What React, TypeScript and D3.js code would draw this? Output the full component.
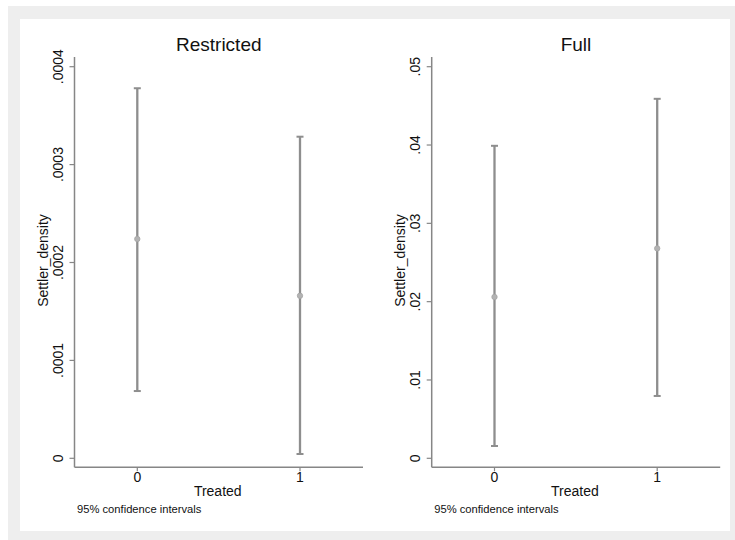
import React from "react";
import * as d3 from "d3";

const treatedCategories = [0, 1];
const xTickLabels = ["0", "1"];

const restrictedMean = [0.000224, 0.000166];
const restrictedLower = [0.0000687, 0.0000044];
const restrictedUpper = [0.000378, 0.0003285];
const restrictedTicks = [0, 0.0001, 0.0002, 0.0003, 0.0004];
const restrictedTickLabels = ["0", ".0001", ".0002", ".0003", ".0004"];

const fullMean = [0.0206, 0.0268];
const fullLower = [0.00157, 0.00796];
const fullUpper = [0.0399, 0.0459];
const fullTicks = [0, 0.01, 0.02, 0.03, 0.04, 0.05];
const fullTickLabels = ["0", ".01", ".02", ".03", ".04", ".05"];

const FONT = "Arial, 'Liberation Sans', Helvetica, sans-serif";
const BAR_COLOR = "#8e8e8e";
const AXIS_COLOR = "#868686";
const TEXT_COLOR = "#111111";

type PanelProps = {
  offsetX: number;
  title: string;
  mean: number[];
  lower: number[];
  upper: number[];
  ticks: number[];
  tickLabels: string[];
  yMax: number;
};

function Panel({ offsetX, title, mean, lower, upper, ticks, tickLabels, yMax }: PanelProps) {
  const axisX = offsetX + 74.5;
  const axisRight = offsetX + 355;
  const axisY = 467.3;
  const axisTop = 57;
  const x = d3.scaleLinear().domain([0, 1]).range([offsetX + 137.3, offsetX + 300]);
  const y = d3.scaleLinear().domain([0, yMax]).range([458.3, 66.7]);
  const centerX = (axisX + axisRight) / 2 + 4;
  const cap = 3.5;
  return (
    <g>
      <text x={centerX} y={51} textAnchor="middle" fontSize={19} fontFamily={FONT} fill={TEXT_COLOR}>
        {title}
      </text>
      {/* y axis */}
      <line x1={axisX} x2={axisX} y1={axisTop} y2={axisY} stroke={AXIS_COLOR} strokeWidth={1.5} />
      {ticks.map((t, i) => (
        <g key={"yt" + i}>
          <line x1={axisX - 5} x2={axisX} y1={y(t)} y2={y(t)} stroke={AXIS_COLOR} strokeWidth={1.2} />
          <text
            transform={`translate(${axisX - 11.5},${y(t)}) rotate(-90)`}
            textAnchor="middle"
            fontSize={14}
            fontFamily={FONT}
            fill={TEXT_COLOR}
          >
            {tickLabels[i]}
          </text>
        </g>
      ))}
      <text
        transform={`translate(${offsetX + 48},${260.5}) rotate(-90)`}
        textAnchor="middle"
        fontSize={14}
        fontFamily={FONT}
        fill={TEXT_COLOR}
      >
        Settler_density
      </text>
      {/* x axis */}
      <line x1={axisX} x2={offsetX + 363} y1={axisY} y2={axisY} stroke={AXIS_COLOR} strokeWidth={1.5} />
      {treatedCategories.map((c, i) => (
        <g key={"xt" + i}>
          <line x1={x(c)} x2={x(c)} y1={axisY} y2={axisY + 4} stroke={AXIS_COLOR} strokeWidth={1.2} />
          <text x={x(c)} y={481.7} textAnchor="middle" fontSize={14} fontFamily={FONT} fill={TEXT_COLOR}>
            {xTickLabels[i]}
          </text>
        </g>
      ))}
      <text x={centerX - 1} y={495.7} textAnchor="middle" fontSize={14} fontFamily={FONT} fill={TEXT_COLOR}>
        Treated
      </text>
      <text x={offsetX + 77} y={513} fontSize={11.2} fontFamily={FONT} fill={TEXT_COLOR}>
        95% confidence intervals
      </text>
      {/* error bars */}
      {treatedCategories.map((c, i) => (
        <g key={"eb" + i}>
          <line x1={x(c)} x2={x(c)} y1={y(lower[i])} y2={y(upper[i])} stroke={BAR_COLOR} strokeWidth={2.3} />
          <line x1={x(c) - cap} x2={x(c) + cap} y1={y(upper[i])} y2={y(upper[i])} stroke={BAR_COLOR} strokeWidth={2} />
          <line x1={x(c) - cap} x2={x(c) + cap} y1={y(lower[i])} y2={y(lower[i])} stroke={BAR_COLOR} strokeWidth={2} />
          <circle cx={x(c)} cy={y(mean[i])} r={2.7} fill="#b3b3b3" stroke="#a5a5a5" strokeWidth={0.8} />
        </g>
      ))}
    </g>
  );
}

export default function App() {
  return (
    <svg
      width={735}
      height={540}
      style={{ position: "absolute", left: 0, top: 0, background: "#ffffff" }}
    >
      <rect x={8} y={6} width={727} height={534} fill="#eeeeee" />
      <rect x={20} y={19} width={710} height={512} fill="#ffffff" />
      <Panel
        offsetX={0}
        title="Restricted"
        mean={restrictedMean}
        lower={restrictedLower}
        upper={restrictedUpper}
        ticks={restrictedTicks}
        tickLabels={restrictedTickLabels}
        yMax={0.0004}
      />
      <Panel
        offsetX={357.2}
        title="Full"
        mean={fullMean}
        lower={fullLower}
        upper={fullUpper}
        ticks={fullTicks}
        tickLabels={fullTickLabels}
        yMax={0.05}
      />
    </svg>
  );
}
